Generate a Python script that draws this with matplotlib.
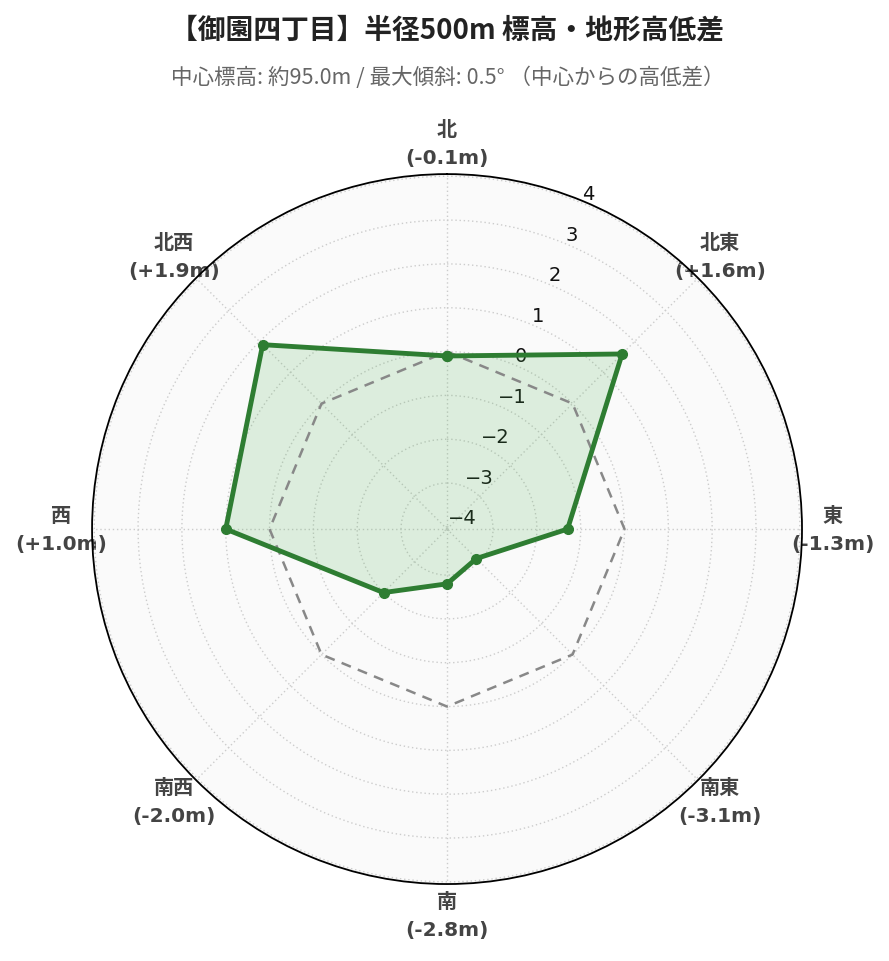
import numpy as np
import matplotlib
matplotlib.use("Agg")
import matplotlib.pyplot as plt

plt.rcParams['font.family'] = ['Noto Sans CJK JP', 'DejaVu Sans']

# ---------------------------------------------------------------------------
# DATA
# ---------------------------------------------------------------------------
directions = ["北", "北東", "東", "南東", "南", "南西", "西", "北西"]
diffs = [-0.1, 1.6, -1.3, -3.1, -2.8, -2.0, 1.0, 1.9]
r_ticks = [-4, -3, -2, -1, 0, 1, 2, 3, 4]
r_range = (-4.05, 4.05)

title = "【御園四丁目】半径500m 標高・地形高低差"
subtitle = "中心標高: 約95.0m / 最大傾斜: 0.5° （中心からの高低差）"

GREEN = "#2e7d32"
FILL = "#4caf50"

# ---------------------------------------------------------------------------
# PLOT
# ---------------------------------------------------------------------------
fig = plt.figure(figsize=(8.89, 9.62), dpi=100)
ax = fig.add_axes([0.1035, 0.080, 0.7987, 0.738], projection="polar")
ax.set_theta_zero_location("N")
ax.set_theta_direction(-1)
ax.set_facecolor("#fafafa")

angles = np.deg2rad(np.arange(len(directions)) * 360.0 / len(directions))
closed_a = np.append(angles, angles[0])
closed_v = np.append(diffs, diffs[0])

# reference line at zero
ax.plot(closed_a, np.zeros_like(closed_a), color="#888888", lw=1.8,
        ls=(0, (4, 3)), zorder=3)

ax.fill(closed_a, closed_v, color=FILL, alpha=0.17, lw=0, zorder=2)
ax.plot(closed_a, closed_v, color=GREEN, lw=3.5, marker="o", markersize=7,
        zorder=4)

ax.set_ylim(*r_range)
ax.set_yticks(r_ticks)
ax.set_yticklabels([f"{t}".replace("-", "\u2212") for t in r_ticks],
                   fontsize=14, family="DejaVu Sans", color="#111111")
ax.set_rlabel_position(22.5)
ax.set_xticks(angles)
ax.set_xticklabels([])
ax.grid(True, color="#cccccc", ls=(0, (1, 2)), lw=1.0)
ax.spines["polar"].set_color("black")
ax.spines["polar"].set_linewidth(1.3)
ax.spines["polar"].set_zorder(5)

# direction labels just outside the circle
label_r = r_range[1] + 31 / (355 / (r_range[1] - r_range[0]))
for a, name, v in zip(angles, directions, diffs):
    ax.text(a, label_r, f"{name}\n({v:+.1f}m)".replace("+-", "-"),
            ha="center", va="center", fontsize=14.5, fontweight="bold",
            family=["DejaVu Sans", "Noto Sans CJK JP"],
            color="#444444", linespacing=1.6, clip_on=False, zorder=1)

fig.text(0.503, 0.968, title, ha="center", va="center", fontsize=20,
         fontweight="bold", color="#222222")
fig.text(0.504, 0.919, subtitle, ha="center", va="center", fontsize=15.5,
         color="#666666")

fig.savefig("out.png", dpi=100, facecolor="white")
